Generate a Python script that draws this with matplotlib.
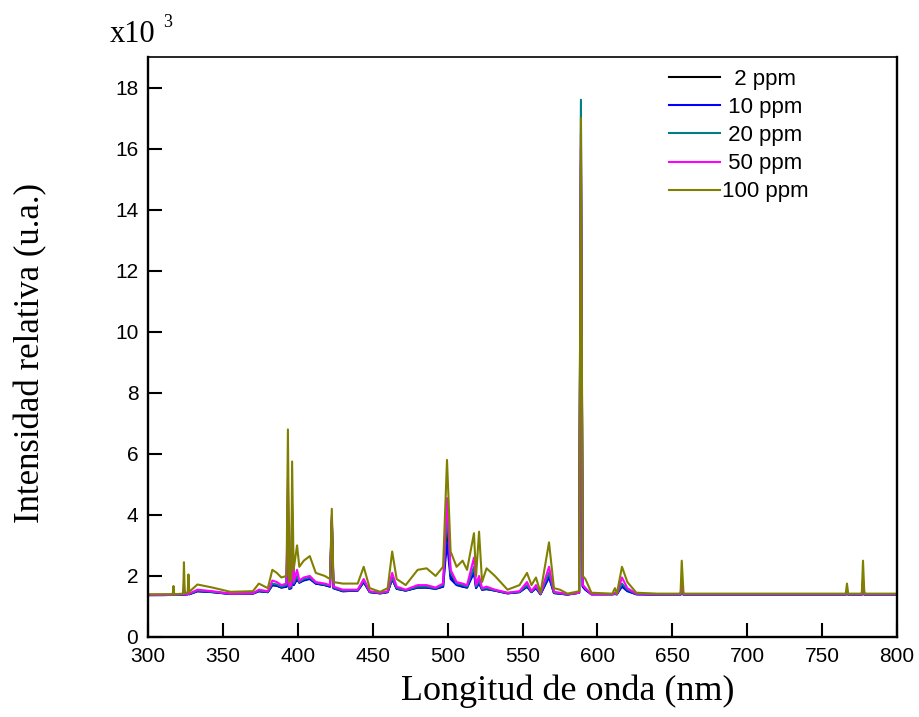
import matplotlib.pyplot as plt

# Wavelength key points (nm)
wavelength = [300, 310, 316.5, 317, 317.5, 323.5, 324, 324.5, 326.5, 327, 327.5,
              333, 343, 355, 370, 374, 380, 383, 386, 389, 392.5, 393.4, 394.3,
              395.6, 396.2, 397.2, 399.5, 401, 404, 408, 412, 418, 421.5, 422.7,
              423.8, 430, 440, 444, 448, 455, 460, 463, 466, 472, 480, 486, 492,
              497, 499.6, 502, 506, 510, 513, 517.6, 519, 521, 523, 526, 531.6,
              540, 548, 553, 556, 559, 562, 567.7, 571, 575, 580, 587.8, 589,
              590.2, 592, 596, 610, 611.7, 613, 616.4, 620, 626, 640, 655.5,
              656.3, 657.5, 700, 765.8, 766.6, 767.4, 776.5, 777.3, 778.2, 800]

# Intensities (x10^3 u.a.)
ppm_2 = [1.38, 1.38, 1.38, 1.42, 1.38, 1.39, 1.50, 1.39, 1.40, 1.45, 1.40,
         1.50, 1.47, 1.41, 1.42, 1.50, 1.47, 1.70, 1.68, 1.62, 1.65, 4.40, 1.58,
         1.60, 3.80, 1.70, 1.90, 1.78, 1.88, 1.92, 1.75, 1.70, 1.65, 3.80,
         1.60, 1.50, 1.52, 1.80, 1.47, 1.43, 1.47, 1.90, 1.58, 1.52, 1.62, 1.62, 1.58,
         1.65, 3.60, 2.00, 1.72, 1.65, 1.62, 2.20, 1.62, 1.80, 1.55, 1.57, 1.52,
         1.43, 1.47, 1.65, 1.47, 1.62, 1.40, 2.00, 1.44, 1.42, 1.39, 1.45, 15.5,
         1.65, 1.55, 1.40, 1.40, 1.41, 1.40, 1.70, 1.52, 1.40, 1.39, 1.39,
         1.55, 1.39, 1.39, 1.39, 1.48, 1.39, 1.39, 1.75, 1.39, 1.39]
ppm_10 = [1.37, 1.37, 1.38, 1.42, 1.38, 1.39, 1.55, 1.39, 1.40, 1.48, 1.40,
          1.50, 1.47, 1.41, 1.42, 1.50, 1.47, 1.70, 1.68, 1.62, 1.65, 3.90, 1.58,
          1.60, 3.60, 1.70, 1.90, 1.78, 1.85, 1.90, 1.75, 1.70, 1.65, 3.80,
          1.60, 1.50, 1.52, 1.80, 1.47, 1.43, 1.47, 1.90, 1.58, 1.52, 1.62, 1.62, 1.58,
          1.65, 3.10, 1.90, 1.70, 1.65, 1.62, 2.10, 1.60, 1.75, 1.55, 1.57, 1.52,
          1.43, 1.47, 1.65, 1.47, 1.60, 1.40, 1.95, 1.44, 1.42, 1.39, 1.45, 16.0,
          1.65, 1.55, 1.40, 1.40, 1.41, 1.40, 1.65, 1.50, 1.40, 1.39, 1.39,
          1.50, 1.39, 1.39, 1.39, 1.48, 1.39, 1.39, 1.70, 1.39, 1.39]
ppm_20 = [1.37, 1.38, 1.38, 1.45, 1.38, 1.40, 1.60, 1.40, 1.40, 1.50, 1.41,
          1.52, 1.48, 1.42, 1.43, 1.52, 1.48, 1.75, 1.72, 1.65, 1.70, 4.80, 1.60,
          1.65, 4.00, 1.75, 2.00, 1.80, 1.90, 1.95, 1.78, 1.72, 1.68, 3.90,
          1.62, 1.52, 1.53, 1.85, 1.48, 1.44, 1.48, 1.95, 1.60, 1.53, 1.65, 1.65, 1.60,
          1.70, 4.15, 2.10, 1.75, 1.70, 1.65, 2.30, 1.65, 1.85, 1.57, 1.60, 1.53,
          1.44, 1.48, 1.70, 1.48, 1.65, 1.41, 2.10, 1.45, 1.43, 1.40, 1.45, 17.6,
          1.70, 1.60, 1.40, 1.40, 1.42, 1.40, 1.75, 1.55, 1.41, 1.39, 1.39,
          1.60, 1.39, 1.39, 1.39, 1.50, 1.39, 1.39, 1.80, 1.39, 1.39]
ppm_50 = [1.38, 1.38, 1.39, 1.50, 1.39, 1.40, 1.75, 1.40, 1.41, 1.60, 1.42,
          1.55, 1.50, 1.42, 1.43, 1.55, 1.50, 1.85, 1.80, 1.70, 1.75, 5.20, 1.65,
          1.70, 4.30, 1.80, 2.20, 1.85, 1.95, 2.00, 1.80, 1.75, 1.70, 4.00,
          1.65, 1.55, 1.55, 1.90, 1.50, 1.45, 1.50, 2.10, 1.65, 1.55, 1.70, 1.70, 1.62,
          1.75, 4.55, 2.20, 1.80, 1.75, 1.70, 2.60, 1.70, 2.00, 1.60, 1.65, 1.55,
          1.45, 1.50, 1.80, 1.50, 1.70, 1.42, 2.30, 1.48, 1.45, 1.40, 1.45, 16.5,
          1.70, 1.60, 1.40, 1.40, 1.45, 1.40, 1.95, 1.60, 1.42, 1.40, 1.40,
          1.75, 1.40, 1.40, 1.40, 1.55, 1.40, 1.40, 1.90, 1.40, 1.40]
ppm_100 = [1.40, 1.40, 1.40, 1.67, 1.40, 1.42, 2.45, 1.45, 1.45, 2.05, 1.48,
           1.72, 1.62, 1.48, 1.50, 1.75, 1.60, 2.20, 2.10, 1.95, 2.00, 6.80, 1.80,
           1.90, 5.75, 2.20, 3.00, 2.30, 2.50, 2.65, 2.10, 2.00, 1.90, 4.20,
           1.80, 1.75, 1.75, 2.30, 1.60, 1.48, 1.60, 2.80, 1.90, 1.70, 2.20, 2.25, 2.00,
           2.30, 5.80, 2.80, 2.30, 2.50, 2.20, 3.40, 2.00, 3.45, 1.80, 2.25, 2.00,
           1.55, 1.70, 2.10, 1.70, 1.95, 1.45, 3.10, 1.60, 1.55, 1.42, 1.50, 17.0,
           2.00, 1.90, 1.45, 1.42, 1.60, 1.42, 2.30, 1.80, 1.45, 1.42, 1.42,
           2.50, 1.42, 1.42, 1.42, 1.75, 1.42, 1.42, 2.50, 1.42, 1.42]

series = [ppm_2, ppm_10, ppm_20, ppm_50, ppm_100]
labels = ["  2 ppm", " 10 ppm", " 20 ppm", " 50 ppm", "100 ppm"]
colors = ["black", "#0000ff", "#008080", "#ff00ff", "#808000"]

fig = plt.figure(figsize=(9.19, 7.17), dpi=100)
ax = fig.add_axes([148 / 919, 80 / 717, 749 / 919, 580 / 717])

for vals, lab, col in zip(series, labels, colors):
    ax.plot(wavelength, vals, color=col, lw=1.5, label=lab)

ax.set_xlim(300, 800)
ax.set_ylim(0, 19)
ax.set_xticks(range(300, 801, 50))
ax.set_yticks(range(0, 19, 2))

for name, s in ax.spines.items():
    s.set_linewidth(1.2 if name == "top" else 1.7)
ax.tick_params(direction="in", length=10, width=1.5, right=False, top=False,
               labelsize=15, pad=7)
for t in ax.get_xticklabels() + ax.get_yticklabels():
    t.set_family("Liberation Sans")

ax.set_xlabel("Longitud de onda (nm)", family="Liberation Serif", fontsize=26)
ax.xaxis.set_label_coords(0.561, -0.064)
ax.set_ylabel("Intensidad relativa (u.a.)", family="Liberation Serif", fontsize=25)
ax.yaxis.set_label_coords(-0.134, 0.49)

fig.text(110 / 919, 1 - 42 / 717, "x10", family="Liberation Serif", fontsize=22, va="baseline")
fig.text(163 / 919, 1 - 27 / 717, "3", family="Liberation Serif", fontsize=13, va="baseline")

leg = ax.legend(loc="upper left", bbox_to_anchor=(669 / 919, 1 - 69 / 717),
                bbox_transform=fig.transFigure, frameon=False,
                prop={"family": "Liberation Sans", "size": 16},
                handlelength=2.3, handletextpad=0.1, labelspacing=0.32,
                borderpad=0, borderaxespad=0)

plt.savefig("out.png", dpi=100)
plt.close()
